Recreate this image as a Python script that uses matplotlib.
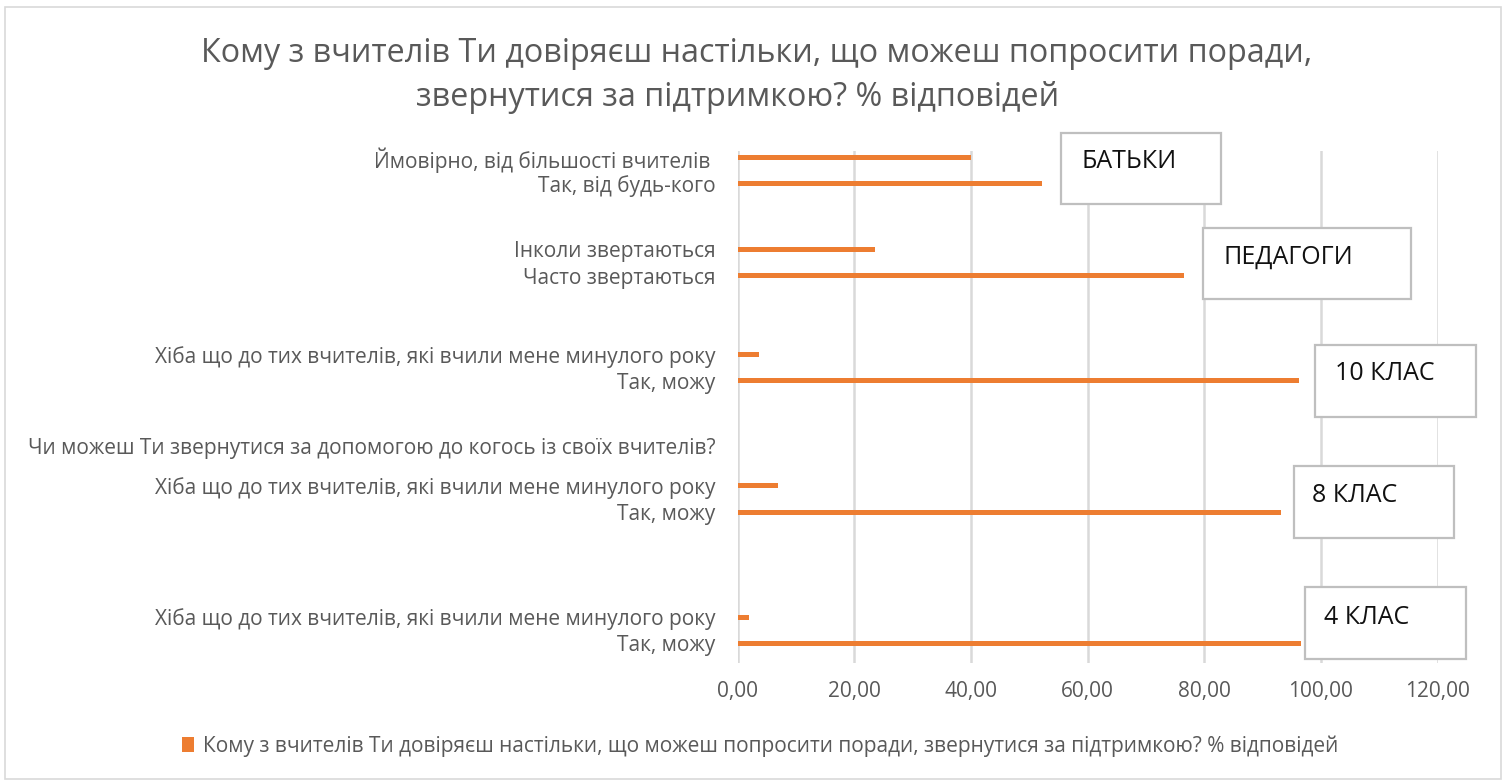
import numpy as np
import matplotlib
matplotlib.use("Agg")
import matplotlib.pyplot as plt
from matplotlib.patches import Rectangle, Patch

plt.rcParams['font.family'] = ['Open Sans', 'DejaVu Sans']

# ---- data (bottom to top, blank rows as in the source sheet) ----
categories = [
    "",
    "Так, можу",
    "",
    "Хіба що до тих вчителів, які вчили мене минулого року",
    "", "", "", "", "", "", "",
    "Так, можу",
    "",
    "Хіба що до тих вчителів, які вчили мене минулого року",
    "", "",
    "Чи можеш Ти звернутися за допомогою до когось із своїх вчителів?",
    "", "", "", "",
    "Так, можу",
    "",
    "Хіба що до тих вчителів, які вчили мене минулого року",
    "", "", "", "", "",
    "Часто звертаються",
    "",
    "Інколи звертаються",
    "", "", "", "",
    "Так, від будь-кого",
    "",
    "Ймовірно, від більшості вчителів ",
]
values = [
    0, 96.5, 0, 1.9,
    0, 0, 0, 0, 0, 0, 0,
    93.1, 0, 6.9,
    0, 0,
    0,
    0, 0, 0, 0,
    96.3, 0, 3.7,
    0, 0, 0, 0, 0,
    76.5, 0, 23.6,
    0, 0, 0, 0,
    52.2, 0, 40.0,
]
x_ticks = [0, 20, 40, 60, 80, 100, 120]
group_labels = ["БАТЬКИ", "ПЕДАГОГИ", "10 КЛАС", "8 КЛАС", "4 КЛАС"]
title_lines = ["Кому з вчителів Ти довіряєш настільки, що можеш попросити поради,",
               "звернутися за підтримкою? % відповідей"]
series_name = "Кому з вчителів Ти довіряєш настільки, що можеш попросити поради, звернутися за підтримкою? % відповідей"

W, H = 1507, 780
BAR = "#ED7D31"
GREY_TXT = "#595959"
GRID = "#D9D9D9"

fig = plt.figure(figsize=(W / 100, H / 100), dpi=100)
fig.patch.set_facecolor("white")


def fx(px):
    return px / W


def fy(py):
    return 1 - py / H


# outer chart border
fig.patches.append(Rectangle((fx(5), fy(779)), fx(1501) - fx(5), fy(7) - fy(779),
                             transform=fig.transFigure, fill=False,
                             edgecolor=GRID, linewidth=1.2, zorder=0))

# plot area
left, right, top, bottom = 737.5, 1437.7, 151, 663
ax = fig.add_axes([fx(left), fy(bottom), fx(right) - fx(left), fy(top) - fy(bottom)])
y = np.arange(len(categories))
ax.barh(y, values, height=0.38, color=BAR, zorder=3)
ax.set_ylim(-0.5, len(categories) - 0.5)
ax.set_xlim(0, 120)
ax.set_yticks(y, labels=categories)
ax.set_xticks(x_ticks, labels=[f"{v:.2f}".replace(".", ",") for v in x_ticks])
ax.tick_params(axis="y", length=0, pad=16, labelsize=15, labelcolor=GREY_TXT)
ax.tick_params(axis="x", length=0, pad=13, labelsize=15, labelcolor=GREY_TXT)
for s in ax.spines.values():
    s.set_visible(False)
ax.grid(axis="x", color=GRID, linewidth=1.8, zorder=0)
ax.set_axisbelow(True)

# title
fig.text(fx(757), fy(53), title_lines[0], ha="center", va="center",
         fontsize=23.3, color=GREY_TXT)
fig.text(fx(738), fy(98), title_lines[1], ha="center", va="center",
         fontsize=23.3, color=GREY_TXT)

# group label boxes (x0, x1, y0, y1, text x, text y) in pixels
boxes = [
    (1061, 1221, 133, 204, 1081, 162),
    (1203, 1411, 228, 299, 1223, 257),
    (1315, 1476, 345, 417, 1335, 373),
    (1294, 1454, 466, 538, 1312, 495),
    (1305, 1466, 587, 659, 1324, 617),
]
for (x0, x1, y0, y1, tx, ty), lab in zip(boxes, group_labels):
    fig.patches.append(Rectangle((fx(x0), fy(y1)), fx(x1) - fx(x0), fy(y0) - fy(y1),
                                 transform=fig.transFigure, facecolor="white",
                                 edgecolor="#BFBFBF", linewidth=1.6, zorder=5))
    fig.text(fx(tx), fy(ty), lab, ha="left", va="center", fontsize=18,
             color="#111111", zorder=6)

# legend
fig.legend(handles=[Patch(facecolor=BAR)], labels=[series_name],
           loc="center", bbox_to_anchor=(fx(760), fy(746)), frameon=False,
           fontsize=15, labelcolor=GREY_TXT, handlelength=0.6, handleheight=0.8,
           handletextpad=0.4)

fig.savefig("out.png", dpi=100, facecolor="white")
